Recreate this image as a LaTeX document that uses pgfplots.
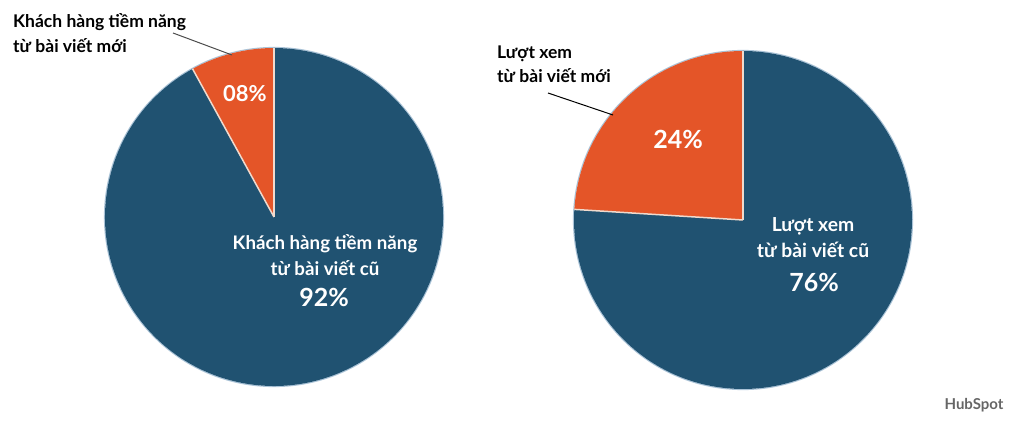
\documentclass[border=0pt]{standalone}
\usepackage{pgfplots}
\pgfplotsset{compat=1.18}
\usepackage{pgfplotstable}
\usepackage{fontspec}
\setmainfont{Lato}

\definecolor{pieblue}{RGB}{32,82,113}
\definecolor{pieorange}{RGB}{228,85,40}
\definecolor{slicegap}{RGB}{240,218,205}
\definecolor{rim}{RGB}{170,195,215}

% shares in percent
\pgfplotstableread{
share value
new 8
old 92
}\leadsdata
\pgfplotstableread{
share value
new 24
old 76
}\viewsdata

\begin{document}
\begin{tikzpicture}
\pgfplotstablegetelem{0}{value}\of\leadsdata
\pgfmathsetmacro\leadsA{90+3.6*\pgfplotsretval}
\pgfplotstablegetelem{0}{value}\of\viewsdata
\pgfmathsetmacro\viewsA{90+3.6*\pgfplotsretval}
\begin{axis}[
    width=1024pt, height=428pt,
    scale only axis,
    xmin=0, xmax=1024, ymin=0, ymax=428,
    hide axis,
    clip=false,
]
\path (axis cs:0,0) rectangle (axis cs:1024,428);

% left pie: leads
\draw[rim, line width=1.2pt] (axis cs:274,211) circle[radius=169.5];
\fill[pieblue] (axis cs:274,211) -- ++(\leadsA:169) arc[start angle=\leadsA, end angle=450, radius=169] -- cycle;
\fill[pieorange] (axis cs:274,211) -- ++(90:169) arc[start angle=90, end angle=\leadsA, radius=169] -- cycle;
\draw[slicegap, line width=1.5pt] (axis cs:274,211) -- ++(90:169);
\draw[slicegap, line width=1.5pt] (axis cs:274,211) -- ++(\leadsA:169);

% right pie: views
\draw[rim, line width=1.2pt] (axis cs:743,208) circle[radius=169.5];
\fill[pieblue] (axis cs:743,208) -- ++(\viewsA:169) arc[start angle=\viewsA, end angle=450, radius=169] -- cycle;
\fill[pieorange] (axis cs:743,208) -- ++(90:169) arc[start angle=90, end angle=\viewsA, radius=169] -- cycle;
\draw[slicegap, line width=1.5pt] (axis cs:743,208) -- ++(90:169);
\draw[slicegap, line width=1.5pt] (axis cs:743,208) -- ++(\viewsA:169);

% leader lines
\draw[black!70, line width=1pt] (axis cs:173,395) -- (axis cs:232,373);
\draw[black, line width=1pt] (axis cs:548,335) -- (axis cs:613,313);

% labels outside
\begin{scope}[font=\fontsize{17.5}{21}\selectfont\bfseries]
\node[anchor=base west, inner sep=0pt] at (axis cs:13,400) {Khách hàng tiềm năng};
\node[anchor=base west, inner sep=0pt] at (axis cs:13,375) {từ bài viết mới};
\node[anchor=base west, inner sep=0pt] at (axis cs:497,369) {Lượt xem};
\node[anchor=base west, inner sep=0pt] at (axis cs:497,345) {từ bài viết mới};
\end{scope}
% labels inside
\begin{scope}[white, font=\fontsize{18.7}{21}\selectfont\bfseries]
\node[anchor=base, inner sep=0pt] at (axis cs:325,178) {Khách hàng tiềm năng};
\node[anchor=base, inner sep=0pt] at (axis cs:325,152) {từ bài viết cũ};
\end{scope}
\begin{scope}[white, font=\fontsize{19.3}{21}\selectfont\bfseries]
\node[anchor=base, inner sep=0pt] at (axis cs:813,196) {Lượt xem};
\node[anchor=base, inner sep=0pt] at (axis cs:813,170) {từ bài viết cũ};
\end{scope}
\node[anchor=base, inner sep=0pt, white, font=\fontsize{22}{22}\selectfont\bfseries] at (axis cs:245,326) {08\%};
\node[anchor=base, inner sep=0pt, white, font=\fontsize{25}{25}\selectfont\bfseries] at (axis cs:324,121) {92\%};
\node[anchor=base, inner sep=0pt, white, font=\fontsize{25}{25}\selectfont\bfseries] at (axis cs:678,279) {24\%};
\node[anchor=base, inner sep=0pt, white, font=\fontsize{25}{25}\selectfont\bfseries] at (axis cs:814,136) {76\%};
\node[anchor=base, inner sep=0pt, black!60, font=\fontsize{15}{15}\selectfont\bfseries] at (axis cs:974,19) {HubSpot};
\end{axis}
\end{tikzpicture}
\end{document}
